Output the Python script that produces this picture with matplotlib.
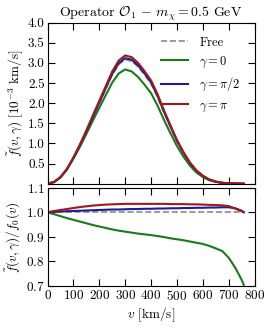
import numpy as np
import matplotlib
matplotlib.use("Agg")
import matplotlib.pyplot as plt

plt.rcParams["font.family"] = ["cmr10", "DejaVu Serif"]
plt.rcParams["mathtext.fontset"] = "cm"
plt.rcParams["axes.formatter.use_mathtext"] = True
plt.rcParams["axes.unicode_minus"] = False

# speed grid [km/s]
v = [0, 25, 50, 75, 100, 125, 150, 175, 200, 225, 250, 275, 300, 325, 350, 375,
     400, 425, 450, 475, 500, 525, 550, 575, 600, 625, 650, 675, 700, 725, 750, 758]

# top panel, f(v, gamma) in 10^-3 km/s
f_free = [0, 0.04, 0.16, 0.36, 0.64, 0.95, 1.29, 1.65, 2.00, 2.35, 2.70, 2.96, 3.08, 3.04,
          2.90, 2.70, 2.48, 2.15, 1.76, 1.40, 1.05, 0.76, 0.51, 0.32, 0.19, 0.10, 0.05,
          0.022, 0.009, 0.003, 0.0005, 0]
f_g0 = [0, 0.040, 0.157, 0.351, 0.620, 0.914, 1.232, 1.564, 1.884, 2.200, 2.511, 2.738,
        2.837, 2.788, 2.648, 2.457, 2.249, 1.941, 1.582, 1.252, 0.935, 0.673, 0.449, 0.280,
        0.165, 0.086, 0.043, 0.019, 0.007, 0.002, 0.0004, 0]
f_gpi2 = [0, 0.040, 0.160, 0.361, 0.643, 0.956, 1.299, 1.663, 2.018, 2.374, 2.730, 2.993,
          3.117, 3.080, 2.938, 2.738, 2.515, 2.182, 1.786, 1.422, 1.067, 0.773, 0.519, 0.326,
          0.193, 0.102, 0.051, 0.022, 0.009, 0.003, 0.0005, 0]
f_gpi = [0, 0.040, 0.161, 0.365, 0.651, 0.970, 1.321, 1.695, 2.058, 2.423, 2.786, 3.058,
         3.185, 3.143, 2.999, 2.792, 2.564, 2.223, 1.820, 1.446, 1.085, 0.785, 0.526, 0.330,
         0.196, 0.103, 0.051, 0.023, 0.009, 0.003, 0.0005, 0]

# bottom panel, ratio to free distribution
r_free = [1.0] * len(v)
r_g0 = [1.000, 0.992, 0.984, 0.976, 0.969, 0.962, 0.955, 0.948, 0.942, 0.936, 0.930, 0.925,
        0.921, 0.917, 0.913, 0.910, 0.907, 0.903, 0.899, 0.894, 0.890, 0.886, 0.881, 0.876,
        0.871, 0.863, 0.853, 0.842, 0.815, 0.775, 0.725, 0.705]
r_gpi2 = [1.000, 1.001, 1.003, 1.004, 1.005, 1.006, 1.007, 1.008, 1.009, 1.010, 1.011, 1.011,
          1.012, 1.013, 1.013, 1.014, 1.014, 1.015, 1.015, 1.016, 1.016, 1.017, 1.017, 1.018,
          1.018, 1.019, 1.019, 1.020, 1.020, 1.016, 1.006, 1.000]
r_gpi = [1.000, 1.005, 1.009, 1.013, 1.017, 1.021, 1.024, 1.027, 1.029, 1.031, 1.032, 1.033,
         1.034, 1.034, 1.034, 1.034, 1.034, 1.034, 1.034, 1.033, 1.033, 1.033, 1.032, 1.032,
         1.031, 1.030, 1.029, 1.028, 1.025, 1.015, 1.004, 1.000]

labels = ["Free", r"$\gamma=0$", r"$\gamma=\pi/2$", r"$\gamma=\pi$"]
colors = ["#8a8a8a", "#1a7a1a", "#1c1c98", "#a01818"]

fig = plt.figure(figsize=(2.7, 3.28), dpi=100)
ax1 = fig.add_axes([0.176, 0.44, 0.767, 0.491])
ax2 = fig.add_axes([0.176, 0.128, 0.767, 0.3])

ax1.plot(v, f_free, "--", color=colors[0], lw=1.2, label=labels[0])
ax1.plot(v, f_g0, color=colors[1], lw=1.5, label=labels[1])
ax1.plot(v, f_gpi2, color=colors[2], lw=1.5, label=labels[2])
ax1.plot(v, f_gpi, color=colors[3], lw=1.5, label=labels[3])

ax2.plot(v, r_free, "--", color=colors[0], lw=1.2)
ax2.plot(v, r_g0, color=colors[1], lw=1.5)
ax2.plot(v, r_gpi2, color=colors[2], lw=1.5)
ax2.plot(v, r_gpi, color=colors[3], lw=1.5)

for ax in (ax1, ax2):
    ax.set_xlim(0, 800)
    ax.set_xticks(np.arange(0, 801, 100))
    ax.tick_params(direction="in", top=True, right=True, length=5, width=0.8,
                   labelsize=9.5, pad=2)

ax1.set_ylim(0, 4.0)
ax1.set_yticks(np.arange(0, 4.01, 0.5))
ax1.set_yticklabels([""] + ["%.1f" % t for t in np.arange(0.5, 4.01, 0.5)])
ax1.set_xticklabels([])
ax1.set_ylabel(r"$\tilde{f}(v,\gamma)\ [10^{-3}\ \mathrm{km/s}]$", fontsize=9.5, labelpad=2)
ax1.set_title(r"Operator $\mathcal{O}_1$ $-$ $m_\chi=0.5$ GeV", fontsize=10, pad=3)
ax1.legend(loc="upper right", frameon=False, fontsize=9, handlelength=2.2,
           labelspacing=0.5, borderaxespad=0.7, handletextpad=0.9)

ax2.set_ylim(0.7, 1.1)
ax2.set_yticks([0.7, 0.8, 0.9, 1.0, 1.1])
ax2.set_ylabel(r"$\tilde{f}(v,\gamma)/f_0(v)$", fontsize=9.5, labelpad=2)
ax2.set_xlabel(r"$v$ [km/s]", fontsize=9.5, labelpad=2)

fig.savefig("out.png", dpi=100)
